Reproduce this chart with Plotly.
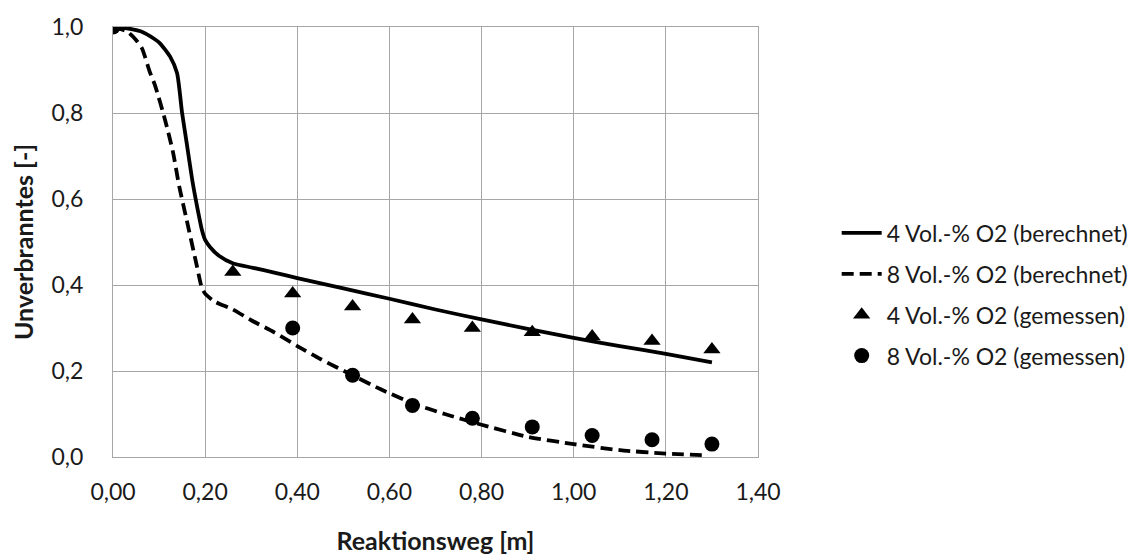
import plotly.graph_objects as go

# ---- data ----
calc4_x = [0.00, 0.03, 0.06, 0.09, 0.102, 0.124, 0.139, 0.15, 0.16, 0.172, 0.183, 0.193, 0.20, 0.211,
           0.23, 0.261, 0.304, 0.35, 0.40, 0.50, 0.60, 0.70, 0.80, 0.90, 1.00, 1.10, 1.20, 1.30]
calc4_y = [1.000, 0.997, 0.99, 0.972, 0.962, 0.931, 0.893, 0.80, 0.73, 0.644, 0.58, 0.528, 0.505, 0.488,
           0.468, 0.45, 0.44, 0.429, 0.416, 0.392, 0.368, 0.343, 0.320, 0.298, 0.277, 0.258, 0.240, 0.220]

calc8_x = [0.00, 0.03, 0.05, 0.063, 0.08, 0.091, 0.113, 0.13, 0.144, 0.16, 0.18, 0.193, 0.20, 0.22,
           0.26, 0.30, 0.35, 0.40, 0.45, 0.52, 0.58, 0.65, 0.72, 0.80, 0.90, 1.00, 1.10, 1.20, 1.29]
calc8_y = [1.000, 0.99, 0.97, 0.95, 0.895, 0.865, 0.784, 0.71, 0.628, 0.551, 0.454, 0.393, 0.38, 0.362,
           0.343, 0.318, 0.29, 0.258, 0.228, 0.19, 0.158, 0.125, 0.10, 0.075, 0.047, 0.03, 0.016, 0.008, 0.004]

meas_x = [0.00, 0.26, 0.39, 0.52, 0.65, 0.78, 0.91, 1.04, 1.17, 1.30]
meas4_y = [1.00, 0.43, 0.38, 0.35, 0.32, 0.30, 0.29, 0.28, 0.27, 0.25]
meas8_y = [1.00, None, 0.30, 0.19, 0.12, 0.09, 0.07, 0.05, 0.04, 0.03]

x_ticks = [0.0, 0.2, 0.4, 0.6, 0.8, 1.0, 1.2, 1.4]
x_tick_labels = ["0,00", "0,20", "0,40", "0,60", "0,80", "1,00", "1,20", "1,40"]
y_ticks = [0.0, 0.2, 0.4, 0.6, 0.8, 1.0]
y_tick_labels = ["0,0", "0,2", "0,4", "0,6", "0,8", "1,0"]

names = ["4 Vol.-% O2 (berechnet)", "8 Vol.-% O2 (berechnet)",
         "4 Vol.-% O2 (gemessen)", "8 Vol.-% O2 (gemessen)"]

FONT = "Lato"
TXT = "#1a1a1a"

fig = go.Figure()
fig.add_trace(go.Scatter(x=calc4_x, y=calc4_y, mode="lines", name=names[0], legendgroup="a",
                         line=dict(color="black", width=3.8, shape="spline", smoothing=0.6)))
fig.add_trace(go.Scatter(x=calc8_x, y=calc8_y, mode="lines", name=names[1], legendgroup="b",
                         line=dict(color="black", width=3.8, dash="12px,6px", shape="spline", smoothing=0.6)))
fig.add_trace(go.Scatter(x=meas_x, y=meas4_y, mode="markers", name=names[2], legendgroup="c",
                         marker=dict(symbol="triangle-up", size=15, color="black")))
fig.add_trace(go.Scatter(x=meas_x, y=meas8_y, mode="markers", name=names[3], legendgroup="d",
                         marker=dict(symbol="circle", size=15, color="black")))

# page has an 8px body margin, so the figure is sized 1135x552 and shifted by margins
fig.update_layout(
    width=1135, height=552,
    margin=dict(l=105, r=385, t=19, b=103, autoexpand=False),
    paper_bgcolor="white", plot_bgcolor="white",
    font=dict(family=FONT, size=23, color=TXT),
    legend=dict(x=1.122, y=0.378, xanchor="left", yanchor="middle",
                font=dict(family=FONT, size=23, color=TXT),
                tracegroupgap=8, bgcolor="rgba(0,0,0,0)", itemwidth=40),
    showlegend=True,
)
fig.update_xaxes(range=[0, 1.4], tickvals=x_ticks, ticktext=x_tick_labels,
                 showgrid=True, gridcolor="#a6a6a6", gridwidth=1,
                 showline=True, linecolor="#a6a6a6", linewidth=1, mirror=True,
                 zeroline=False, ticks="", ticklabelstandoff=14,
                 title=dict(text="<b>Reaktionsweg [m]</b>", standoff=28,
                            font=dict(family=FONT, size=25, color=TXT)))
fig.update_yaxes(range=[0, 1.0], tickvals=y_ticks, ticktext=y_tick_labels,
                 showgrid=True, gridcolor="#a6a6a6", gridwidth=1,
                 showline=True, linecolor="#a6a6a6", linewidth=1, mirror=True,
                 zeroline=False, ticks="", ticklabelstandoff=24,
                 title=dict(text="<b>Unverbranntes [-]</b>", standoff=14,
                            font=dict(family=FONT, size=25, color=TXT)))

fig.write_html("out.html")
